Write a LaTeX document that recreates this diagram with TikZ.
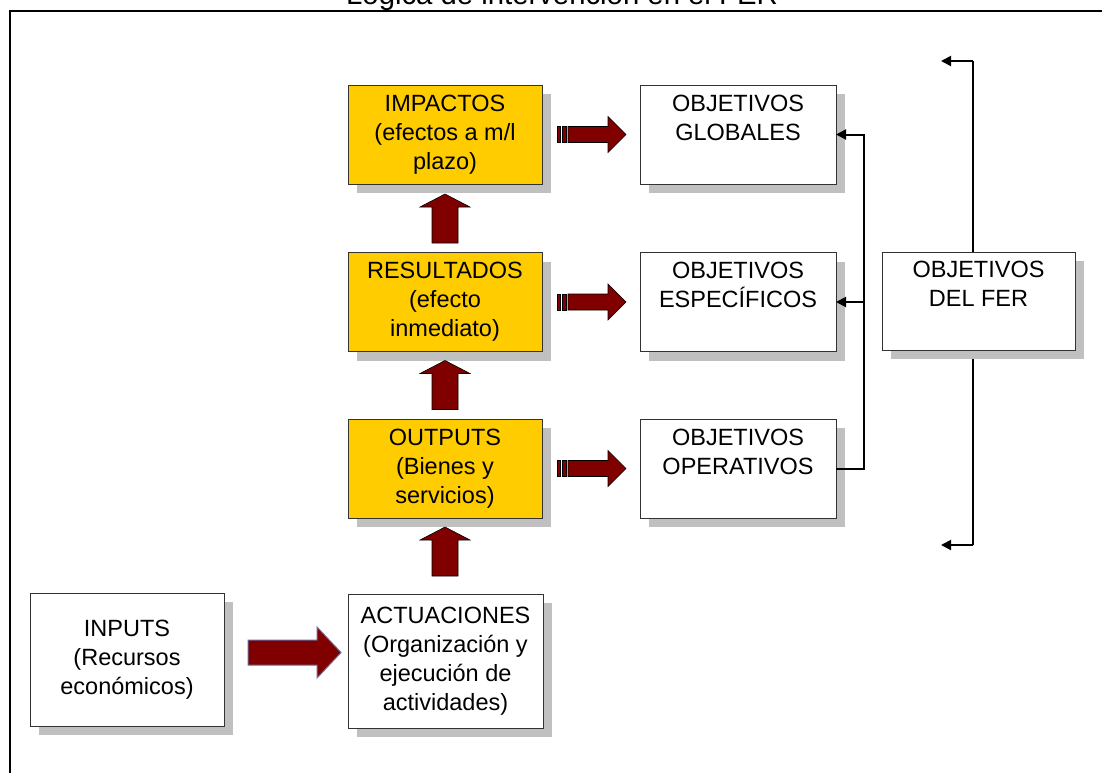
\documentclass[tikz,border=0pt]{standalone}
\usepackage{fontspec}
\setmainfont{Liberation Sans}
\usetikzlibrary{shadows,arrows.meta,calc}
\definecolor{gold}{HTML}{FFCC00}
\definecolor{darkred}{HTML}{800000}
\definecolor{shade}{HTML}{C0C0C0}
\definecolor{arrowedge}{HTML}{6B6B9B}
\newcommand\ls{\rule[-6pt]{0pt}{23pt}}
\begin{document}
\begin{tikzpicture}[x=1pt,y=-1pt,
  box/.style={draw=black!80,line width=1pt,fill=white,minimum width=194pt,minimum height=99pt,
    inner sep=0pt,outer sep=0pt,align=center,font=\fontsize{23.5}{29}\selectfont,
    drop shadow={shadow xshift=9pt,shadow yshift=-9pt,fill=shade,opacity=1}},
  goldbox/.style={box,fill=gold},
  blockarrow/.style={fill=darkred,draw=black,line width=0.6pt,line join=miter},
  link/.style={line width=2pt,-{Triangle[length=10pt,width=10pt]}},
  uparrow/.pic={\path[blockarrow] (0,0) -- (25,13) -- (13,13) -- (13,49) -- (-13,49) -- (-13,13) -- (-25,13) -- cycle;},
  rightarrow/.pic={
    \path[blockarrow] (0,-8) rectangle (3.5,8);
    \path[blockarrow] (5,-8) rectangle (9,8);
    \path[blockarrow] (11,-8) -- (51,-8) -- (51,-18) -- (69,0) -- (51,18) -- (51,8) -- (11,8) -- cycle;},
  bigarrow/.pic={\path[fill=darkred,draw=arrowedge,line width=1pt] (0,-12.5) -- (69,-12.5) -- (69,-25.5) -- (93,0) -- (69,25.5) -- (69,12.5) -- (0,12.5) -- cycle;}
]
\useasboundingbox (0,0) rectangle (1102,772);
\fill[white] (0,0) rectangle (1102,772);

% title and frame
\node[anchor=base,font=\fontsize{29.3}{35}\selectfont,inner sep=0pt] (title) at (562,4.5) {Lógica de intervención en el FER};
\draw[line width=2.2pt] (10,800) -- (10,11) -- (1120,11);

% bracket of the FER objectives
\coordinate (bt) at (973,61);
\coordinate (bb) at (973,545);
\coordinate (btl) at (941,61);
\coordinate (bbl) at (941,545);
\draw[line width=1.2pt] (bt) -- (bb);
\draw[link] (bt) -- (btl);
\draw[link] (bb) -- (bbl);

% boxes
\node[goldbox] (imp) at (445,134.5) {\ls IMPACTOS\\\ls(efectos a m/l\\\ls plazo)};
\node[goldbox] (res) at (445,302) {\ls RESULTADOS\\\ls(efecto\\\ls inmediato)};
\node[goldbox] (out) at (445,468.5) {\ls OUTPUTS\\\ls(Bienes y\\\ls servicios)};
\node[box,minimum width=195pt,minimum height=134pt] (act) at (445.5,661) {\ls ACTUACIONES\\\ls(Organización y\\\ls ejecución de\\\ls actividades)};
\node[box,minimum height=133pt] (inp) at (127,659.5) {\ls INPUTS\\\ls(Recursos\\\ls económicos)};
\node[box,minimum width=196pt] (og) at (738,134.5) {\ls OBJETIVOS\\\ls GLOBALES\\\ls};
\node[box,minimum width=196pt] (oe) at (738,302) {\ls OBJETIVOS\\\ls ESPECÍFICOS\\\ls};
\node[box,minimum width=196pt] (oo) at (738,468.5) {\ls OBJETIVOS\\\ls OPERATIVOS\\\ls};
\node[box,minimum width=193pt,minimum height=98pt] (fer) at (978.5,301) {\ls OBJETIVOS\\\ls DEL FER\\\ls};

% block arrows
\pic at ($(imp.south)+(0,10)$) {uparrow};
\pic at ($(res.south)+(0,9)$) {uparrow};
\pic at ($(out.south)+(0,9)$) {uparrow};
\pic at ($(imp.east)+(15,0)$) {rightarrow};
\pic at ($(res.east)+(15,0)$) {rightarrow};
\pic at ($(out.east)+(15,0)$) {rightarrow};
\pic at ($(inp.east)+(24,-7)$) {bigarrow};

% links from operational objectives
\coordinate (j) at ($(oo.east)+(28,0)$);
\draw[link] (oo.east) -- (j) |- (og.east);
\draw[link] (j |- oe.east) -- (oe.east);
\end{tikzpicture}
\end{document}
